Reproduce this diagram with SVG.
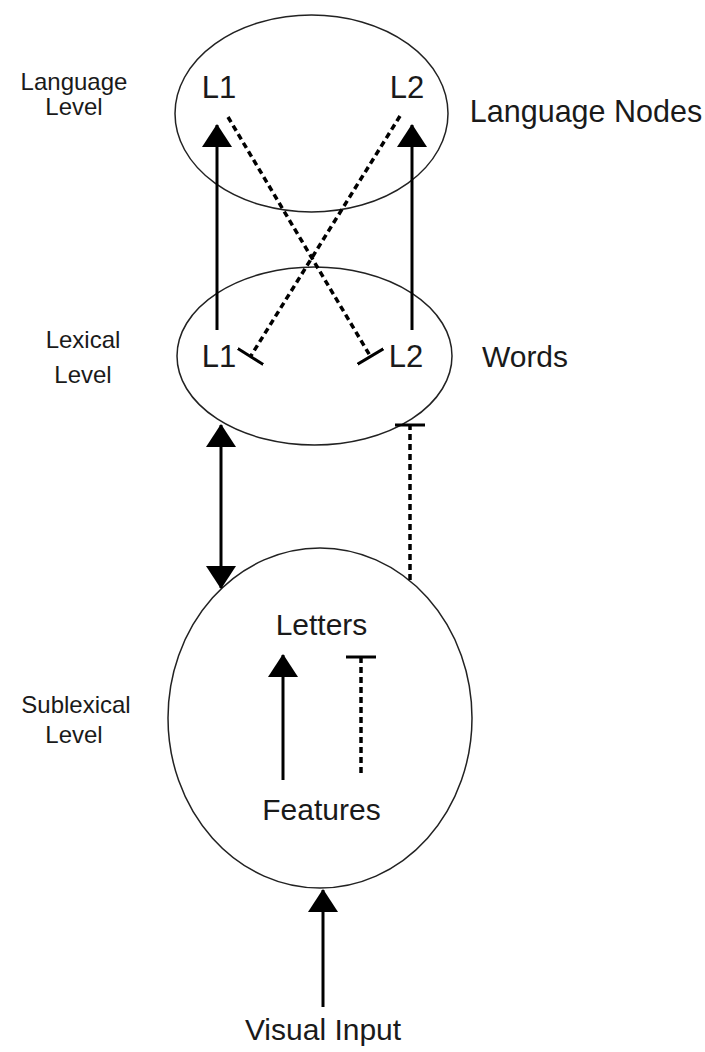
<svg xmlns="http://www.w3.org/2000/svg" width="705" height="1052" viewBox="0 0 705 1052">
<style>
.ell{fill:none;stroke:#222;stroke-width:1.5}
.t{font-family:"Liberation Sans",Arial,sans-serif;fill:#1a1a1a;text-anchor:middle}
.big{font-size:30px}
.lvl{font-size:24px}
.solid{stroke:#000;stroke-width:3;fill:none}
.dash{stroke:#000;stroke-width:3.5;fill:none;stroke-dasharray:6 4}
</style>
<defs>
<marker id="arrow" viewBox="0 0 23 30" refX="22" refY="15" markerWidth="23" markerHeight="30" markerUnits="userSpaceOnUse" orient="auto-start-reverse">
<path d="M0,0 L23,15 L0,30 z" fill="#000"/>
</marker>
<marker id="bar" viewBox="0 0 4 30" refX="2" refY="15" markerWidth="4" markerHeight="30" markerUnits="userSpaceOnUse" orient="auto">
<path d="M2,0 L2,30" stroke="#000" stroke-width="3"/>
</marker>
</defs>
<rect width="705" height="1052" fill="#fff"/>

<g id="language-level">
<ellipse class="ell" cx="311.5" cy="113.5" rx="136.5" ry="98.5"/>
<text class="t" style="font-size:31px" x="219" y="98">L1</text>
<text class="t" style="font-size:31px" x="407" y="98">L2</text>
<text class="t" style="font-size:30.5px" x="586" y="122">Language Nodes</text>
<text class="t lvl" x="74" y="90">Language</text>
<text class="t lvl" x="74" y="115">Level</text>
</g>

<g id="lexical-level">
<ellipse class="ell" cx="314.5" cy="356" rx="137.5" ry="89"/>
<text class="t" style="font-size:31px" x="219" y="367">L1</text>
<text class="t" style="font-size:31px" x="406" y="367">L2</text>
<text class="t big" x="525" y="367">Words</text>
<text class="t lvl" x="83" y="348">Lexical</text>
<text class="t lvl" x="83" y="383">Level</text>
</g>

<g id="sublexical-level">
<ellipse class="ell" cx="320" cy="718" rx="152" ry="170"/>
<text class="t big" x="321.5" y="635">Letters</text>
<text class="t big" x="321.5" y="820">Features</text>
<text class="t lvl" x="76" y="713">Sublexical</text>
<text class="t lvl" x="74" y="743">Level</text>
</g>

<g id="visual-input">
<text class="t big" x="323" y="1040">Visual Input</text>
</g>

<g id="connectors">
<line class="solid" x1="217" y1="330" x2="217" y2="125" marker-end="url(#arrow)"/>
<line class="solid" x1="412" y1="330" x2="412" y2="125" marker-end="url(#arrow)"/>
<line class="dash" x1="228" y1="117" x2="370.5" y2="356.5" marker-end="url(#bar)"/>
<line class="dash" x1="400" y1="116" x2="250.5" y2="356.5" marker-end="url(#bar)"/>
<line class="solid" x1="221" y1="425" x2="221" y2="588" marker-start="url(#arrow)" marker-end="url(#arrow)"/>
<line class="dash" x1="410" y1="580" x2="410" y2="425" marker-end="url(#bar)"/>
<line class="solid" x1="283" y1="780" x2="283" y2="655" marker-end="url(#arrow)"/>
<line class="dash" x1="361" y1="773" x2="361" y2="657" marker-end="url(#bar)"/>
<line class="solid" x1="323" y1="1007" x2="323" y2="890" marker-end="url(#arrow)"/>
</g>
</svg>
